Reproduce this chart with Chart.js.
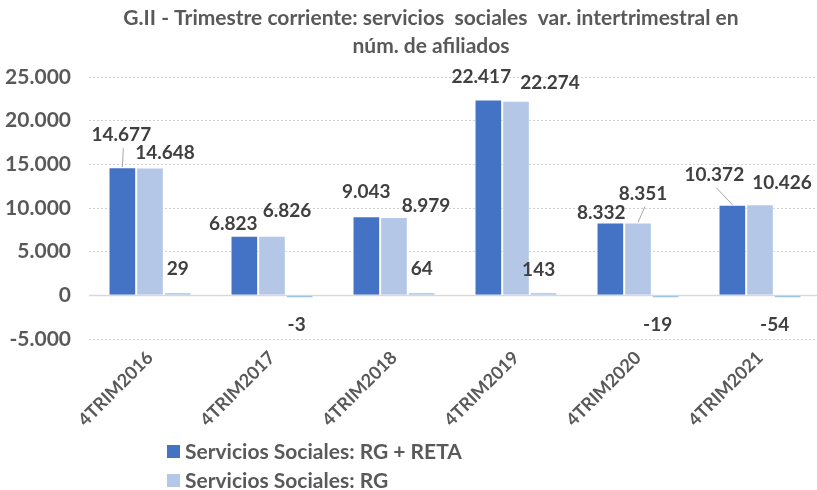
<!DOCTYPE html>
<html>
<head>
<meta charset="utf-8">
<script src="https://cdn.jsdelivr.net/npm/chart.js@4.4.1/dist/chart.umd.min.js"></script>
<style>
  html, body { margin: 0; padding: 0; background: #fff; overflow: hidden; }
  #wrap { width: 825px; height: 490px; }
</style>
</head>
<body>
<div id="wrap"><canvas id="chart" width="825" height="490"></canvas></div>
<script>
// ================== DATA ==================
const categories = ["4TRIM2016", "4TRIM2017", "4TRIM2018", "4TRIM2019", "4TRIM2020", "4TRIM2021"];
const seriesNames = ["Servicios Sociales: RG + RETA", "Servicios Sociales: RG", "Servicios Sociales: RETA"];
const rgReta = [14677, 6823, 9043, 22417, 8332, 10372];
const rg = [14648, 6826, 8979, 22274, 8351, 10426];
const reta = [29, -3, 64, 143, -19, -54];
const yTicks = [-5000, 0, 5000, 10000, 15000, 20000, 25000];
const titleLines = ["G.II - Trimestre corriente: servicios  sociales  var. intertrimestral en", "núm. de afiliados"];

// ================== STYLE ==================
const colors = ["#4472C4", "#B4C7E7", "#9DC3E6"];
const FONT = "Lato, 'Open Sans', sans-serif";
const TEXT = "#595959";

// label offsets from the bar end (dx, dy), moved by hand like in the source chart
const labelOffsets = [
  [[-1, -32], [-11, -12], [0, -24], [-7, -23], [-9, -10], [-18, -30]],
  [[15, -15], [15, -25], [32, -11], [34, -18], [5, -29], [22, -21]],
  [[0, -23], [-3, 27], [0, -23], [-5, -22], [-8, 27], [-13, 27]],
];
const leaders = [
  [true, false, false, false, false, true],
  [false, false, false, false, true, false],
  [false, false, false, false, false, false],
];

// ================== HELPERS ==================
function fmt(v) {
  const s = Math.abs(v).toString().replace(/\B(?=(\d{3})+(?!\d))/g, ".");
  return (v < 0 ? "-" : "") + s;
}

// ================== PLUGINS ==================
const zeroLine = {
  id: "zeroLine",
  beforeDatasetsDraw(chart) {
    const { ctx, chartArea, scales } = chart;
    const y = Math.round(scales.y.getPixelForValue(0)) + 0.5;
    ctx.save();
    ctx.strokeStyle = "#D9D9D9";
    ctx.lineWidth = 1.5;
    ctx.beginPath();
    ctx.moveTo(chartArea.left, y);
    ctx.lineTo(chartArea.right, y);
    ctx.stroke();
    ctx.restore();
  },
};

const valueLabels = {
  id: "valueLabels",
  afterDatasetsDraw(chart) {
    const ctx = chart.ctx;
    ctx.save();
    ctx.font = `bold 19px ${FONT}`;
    ctx.fillStyle = "#404040";
    ctx.textAlign = "center";
    ctx.textBaseline = "middle";
    chart.data.datasets.forEach((ds, di) => {
      chart.getDatasetMeta(di).data.forEach((bar, i) => {
        const [dx, dy] = labelOffsets[di][i];
        const x = bar.x + dx;
        const y = bar.y + dy;
        if (leaders[di][i]) {
          ctx.strokeStyle = "#A6A6A6";
          ctx.lineWidth = 1;
          ctx.beginPath();
          ctx.moveTo(x + 2, y + 13);
          ctx.lineTo(bar.x, bar.y);
          ctx.stroke();
        }
        ctx.fillText(fmt(ds.data[i]), x, y);
      });
    });
    ctx.restore();
  },
};

const titleAndLegend = {
  id: "titleAndLegend",
  afterDraw(chart) {
    const ctx = chart.ctx;
    ctx.save();
    ctx.fillStyle = TEXT;
    ctx.textBaseline = "middle";
    ctx.textAlign = "center";
    ctx.font = `bold 21px ${FONT}`;
    titleLines.forEach((t, i) => ctx.fillText(t, 431, 18 + i * 28));

    // legend: only the first two series, stacked
    ctx.textAlign = "left";
    ctx.font = `bold 21px ${FONT}`;
    chart.data.datasets.slice(0, 2).forEach((ds, i) => {
      const y = 452 + i * 29;
      ctx.fillStyle = ds.backgroundColor;
      ctx.fillRect(167, y - 7, 13, 13);
      ctx.fillStyle = TEXT;
      ctx.fillText(ds.label, 185, y);
    });
    ctx.restore();
  },
};

// ================== CHART ==================
const ctx = document.getElementById("chart").getContext("2d");
new Chart(ctx, {
  type: "bar",
  data: {
    labels: categories,
    datasets: [rgReta, rg, reta].map((d, i) => ({
      label: seriesNames[i],
      data: d,
      backgroundColor: colors[i],
      borderColor: "rgba(255,255,255,0.6)",
      borderWidth: 1,
      minBarLength: 3,
      categoryPercentage: 0.68,
      barPercentage: 1,
    })),
  },
  options: {
    responsive: false,
    animation: false,
    devicePixelRatio: 1,
    layout: { padding: { top: 77, right: 4, bottom: 0, left: 0 } },
    plugins: {
      legend: { display: false },
      title: { display: false },
      tooltip: { enabled: false },
    },
    scales: {
      x: {
        grid: { display: false, drawTicks: false },
        border: { display: false },
        ticks: {
          color: TEXT,
          font: { family: FONT, size: 18, weight: "bold" },
          minRotation: 45,
          maxRotation: 45,
          padding: 8,
        },
        afterFit(scale) { scale.height = 151; },
      },
      y: {
        min: -5000,
        max: 25000,
        afterBuildTicks(scale) { scale.ticks = yTicks.map((v) => ({ value: v })); },
        grid: { color: "#D0D0D0", lineWidth: 1, drawTicks: false },
        border: { display: false, dash: [2, 2] },
        ticks: {
          color: TEXT,
          font: { family: FONT, size: 21, weight: "bold" },
          padding: 18,
          callback: (v) => fmt(v),
        },
        afterFit(scale) { scale.width = 89; },
      },
    },
  },
  plugins: [zeroLine, valueLabels, titleAndLegend],
});
</script>
</body>
</html>
